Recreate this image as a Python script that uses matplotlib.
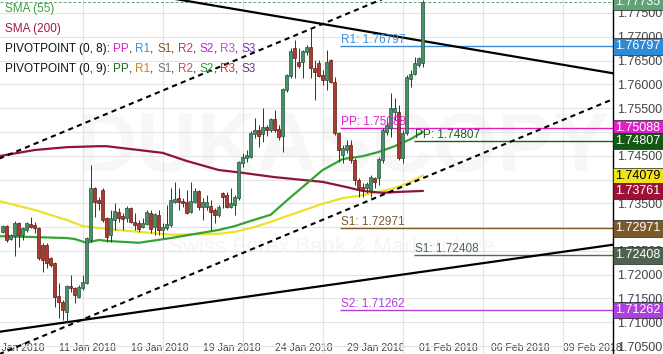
import numpy as np
import matplotlib
matplotlib.use('Agg')
import matplotlib.pyplot as plt
from matplotlib.offsetbox import TextArea, HPacker, AnnotationBbox

plt.rcParams['font.family'] = ['Liberation Sans', 'DejaVu Sans']

###################################
# data (4H candles)
###################################
opens = [1.7290, 1.7302, 1.7275, 1.7281, 1.7309, 1.7284, 1.7294, 1.7307, 1.7305, 1.7298,
         1.7263, 1.7263, 1.7235, 1.7225, 1.7155, 1.7143, 1.7122, 1.7176, 1.7172, 1.7153,
         1.7172, 1.7183, 1.7273, 1.7382, 1.7357, 1.7378, 1.7319, 1.7284, 1.7315, 1.7332,
         1.7323, 1.7319, 1.7340, 1.7311, 1.7309, 1.7300, 1.7307, 1.7330, 1.7300, 1.7326,
         1.7294, 1.7298, 1.7305, 1.7353, 1.7361, 1.7355, 1.7353, 1.7332, 1.7353, 1.7376,
         1.7342, 1.7342, 1.7344, 1.7336, 1.7326, 1.7372, 1.7367, 1.7342, 1.7347, 1.7361,
         1.7435, 1.7445, 1.7447, 1.7496, 1.7504, 1.7496, 1.7510, 1.7504, 1.7527, 1.7506,
         1.7491, 1.7588, 1.7617, 1.7676, 1.7647, 1.7647, 1.7668, 1.7678, 1.7634, 1.7645,
         1.7620, 1.7609, 1.7651, 1.7605, 1.7498, 1.7452, 1.7462, 1.7472, 1.7441, 1.7399,
         1.7384, 1.7382, 1.7378, 1.7403, 1.7403, 1.7441, 1.7500, 1.7508, 1.7542, 1.7542,
         1.7445, 1.7498, 1.7611, 1.7622, 1.7641, 1.7645]
highs = [1.7305, 1.7304, 1.7286, 1.7313, 1.7311, 1.7300, 1.7311, 1.7321, 1.7311, 1.7300,
         1.7267, 1.7267, 1.7237, 1.7227, 1.7183, 1.7147, 1.7178, 1.7200, 1.7174, 1.7178,
         1.7200, 1.7279, 1.7431, 1.7384, 1.7363, 1.7382, 1.7321, 1.7336, 1.7351, 1.7340,
         1.7330, 1.7344, 1.7342, 1.7330, 1.7315, 1.7319, 1.7336, 1.7336, 1.7330, 1.7336,
         1.7309, 1.7347, 1.7382, 1.7395, 1.7382, 1.7361, 1.7378, 1.7395, 1.7382, 1.7378,
         1.7361, 1.7367, 1.7357, 1.7340, 1.7347, 1.7374, 1.7374, 1.7382, 1.7367, 1.7439,
         1.7456, 1.7462, 1.7502, 1.7529, 1.7515, 1.7550, 1.7515, 1.7529, 1.7546, 1.7515,
         1.7592, 1.7622, 1.7676, 1.7693, 1.7676, 1.7672, 1.7683, 1.7718, 1.7651, 1.7651,
         1.7630, 1.7672, 1.7653, 1.7615, 1.7500, 1.7472, 1.7483, 1.7483, 1.7445, 1.7403,
         1.7393, 1.7395, 1.7410, 1.7405, 1.7447, 1.7508, 1.7529, 1.7582, 1.7571, 1.7557,
         1.7504, 1.7620, 1.7630, 1.7657, 1.7657, 1.7777]
lows = [1.7288, 1.7269, 1.7273, 1.7239, 1.7258, 1.7273, 1.7290, 1.7298, 1.7288, 1.7231,
        1.7206, 1.7214, 1.7216, 1.7132, 1.7109, 1.7105, 1.7099, 1.7164, 1.7141, 1.7151,
        1.7168, 1.7181, 1.7269, 1.7321, 1.7336, 1.7311, 1.7269, 1.7269, 1.7294, 1.7311,
        1.7294, 1.7311, 1.7309, 1.7294, 1.7290, 1.7298, 1.7305, 1.7288, 1.7284, 1.7284,
        1.7277, 1.7294, 1.7300, 1.7351, 1.7336, 1.7342, 1.7328, 1.7330, 1.7351, 1.7336,
        1.7315, 1.7336, 1.7294, 1.7309, 1.7321, 1.7340, 1.7340, 1.7340, 1.7326, 1.7357,
        1.7426, 1.7437, 1.7445, 1.7487, 1.7468, 1.7479, 1.7491, 1.7500, 1.7500, 1.7483,
        1.7458, 1.7584, 1.7613, 1.7613, 1.7634, 1.7613, 1.7662, 1.7613, 1.7567, 1.7615,
        1.7598, 1.7588, 1.7603, 1.7494, 1.7437, 1.7435, 1.7456, 1.7435, 1.7389, 1.7363,
        1.7363, 1.7372, 1.7363, 1.7382, 1.7389, 1.7435, 1.7494, 1.7489, 1.7525, 1.7441,
        1.7435, 1.7494, 1.7594, 1.7620, 1.7636, 1.7636]
closes = [1.7302, 1.7273, 1.7284, 1.7309, 1.7284, 1.7298, 1.7309, 1.7300, 1.7298, 1.7235,
          1.7231, 1.7225, 1.7221, 1.7153, 1.7143, 1.7126, 1.7176, 1.7172, 1.7158, 1.7174,
          1.7185, 1.7277, 1.7382, 1.7353, 1.7351, 1.7315, 1.7279, 1.7319, 1.7334, 1.7319,
          1.7317, 1.7340, 1.7311, 1.7305, 1.7296, 1.7309, 1.7332, 1.7296, 1.7328, 1.7294,
          1.7300, 1.7307, 1.7357, 1.7359, 1.7353, 1.7351, 1.7330, 1.7355, 1.7376, 1.7342,
          1.7353, 1.7353, 1.7332, 1.7326, 1.7342, 1.7363, 1.7342, 1.7351, 1.7363, 1.7437,
          1.7447, 1.7452, 1.7498, 1.7504, 1.7491, 1.7510, 1.7504, 1.7527, 1.7504, 1.7489,
          1.7590, 1.7620, 1.7670, 1.7655, 1.7638, 1.7670, 1.7678, 1.7634, 1.7626, 1.7617,
          1.7609, 1.7647, 1.7605, 1.7498, 1.7462, 1.7466, 1.7472, 1.7441, 1.7399, 1.7382,
          1.7378, 1.7391, 1.7405, 1.7395, 1.7443, 1.7504, 1.7515, 1.7550, 1.7550, 1.7445,
          1.7498, 1.7615, 1.7622, 1.7645, 1.7655, 1.77735]

# moving averages, read at some candle indexes
sma55_idx = [-1, 8, 16, 18, 21, 24, 26, 34, 42, 54, 58, 62, 67, 72, 80, 85, 90, 94, 98, 102, 105]
sma55_val = [1.7281, 1.7279, 1.7277, 1.7275, 1.7267, 1.7273, 1.7271, 1.7267, 1.7277, 1.7294,
             1.7302, 1.7313, 1.7326, 1.7363, 1.7420, 1.7443, 1.7449, 1.7458, 1.7470, 1.7485, 1.7500]
sma200_idx = [-1, 8, 16, 24, 26, 34, 40, 46, 54, 60, 68, 80, 86, 90, 95, 99, 105]
sma200_val = [1.7449, 1.7462, 1.7468, 1.7470, 1.7470, 1.7462, 1.7456, 1.7439, 1.7420, 1.7414,
              1.7405, 1.7395, 1.7384, 1.7376, 1.7372, 1.7374, 1.7376]
yellow_idx = [-1, 8, 16, 20, 26, 34, 42, 54, 58, 62, 67, 72, 80, 85, 90, 94, 98, 102, 105]
yellow_val = [1.7355, 1.7336, 1.7315, 1.7302, 1.7296, 1.7290, 1.7284, 1.7286, 1.7290, 1.7298,
              1.7311, 1.7326, 1.7349, 1.7361, 1.7367, 1.7374, 1.7382, 1.7395, 1.7408]

# trend lines (end points)
trend_x = [-1, 153]
channel_top = [1.74435, 1.79825]
channel_bottom = [1.70325, 1.75704]
line_down = [1.78424, 1.76227]
line_up = [1.70798, 1.72635]

last_price = 1.77735
sma200_last = 1.73761
yellow_last = 1.74079

# daily pivots
piv8_start = 84.3
piv9_start = 102.8
piv8 = [('R1', 1.76797, '#3c8fd6'), ('PP', 1.75088, '#e01fc8'),
        ('S1', 1.72971, '#7a5a2a'), ('S2', 1.71262, '#b03fd6')]
piv9 = [('PP', 1.74807, '#1d5e1d'), ('S1', 1.72408, '#56665a')]

date_labels = ['08 Jan 2018', '11 Jan 2018', '16 Jan 2018', '19 Jan 2018', '24 Jan 2018',
               '29 Jan 2018', '01 Feb 2018', '06 Feb 2018', '09 Feb 2018']
date_idx = 3.3 + 18 * np.arange(len(date_labels))

###################################
# figure
###################################
fig = plt.figure(figsize=(6.63, 3.54), dpi=100)
ax = fig.add_axes([0, 0, 613 / 663., 1])
ax.set_xlim(-0.675, 152.575)
ax.set_ylim(1.70333, 1.77773)

for s in ['left', 'top', 'bottom']:
    ax.spines[s].set_visible(False)
ax.spines['right'].set_color('black')
ax.spines['right'].set_linewidth(1.0)

yt = np.arange(1.705, 1.7751, 0.005)
ax.set_yticks(yt)
ax.set_yticklabels(['%.5f' % v for v in yt])
ax.yaxis.tick_right()
ax.tick_params(axis='y', length=0, pad=3, labelsize=9, labelcolor='#444444')
ax.set_xticks(date_idx)
ax.set_xticklabels(date_labels)
ax.tick_params(axis='x', length=0, direction='in', pad=-8, labelsize=7.5, labelcolor='#444444')
ax.set_xticks(np.arange(20, 150, 20), minor=True)
ax.tick_params(axis='x', which='minor', length=0)
ax.grid(True, which='minor', axis='x', color='#e4e4e4', lw=0.8)
ax.grid(True, which='major', axis='y', color='#e4e4e4', lw=0.8)
ax.grid(False, which='major', axis='x')
ax.set_axisbelow(True)

# watermark (very faint)
ax.text(0.56, 0.58, 'DUKASCOPY', transform=ax.transAxes, ha='center', va='center',
        fontsize=60, fontweight='bold', color='#f7f7f7', zorder=0)
ax.text(0.54, 0.30, 'Swiss Forex Bank & Marketplace', transform=ax.transAxes, ha='center',
        va='center', fontsize=16, color='#f5f5f5', zorder=0)

# trend lines
ax.plot(trend_x, channel_top, color='black', lw=1.5, ls=(0, (2.5, 2)), zorder=4)
ax.plot(trend_x, channel_bottom, color='black', lw=1.5, ls=(0, (2.5, 2)), zorder=4)
ax.plot(trend_x, line_down, color='black', lw=1.6, zorder=4)
ax.plot(trend_x, line_up, color='black', lw=1.6, zorder=4)

# moving averages
ax.plot(yellow_idx, yellow_val, color='#ece22c', lw=1.6, zorder=3)
ax.plot(sma200_idx, sma200_val, color='#8e1538', lw=1.6, zorder=3)
ax.plot(sma55_idx, sma55_val, color='#34a334', lw=1.6, zorder=3)

# candles
o = np.array(opens)
c = np.array(closes)
h = np.array(highs)
l = np.array(lows)
x = np.arange(len(o))
up = c >= o
ax.vlines(x, l, h, color='#333333', lw=0.7, zorder=5)
ax.bar(x[up], (c - o)[up], bottom=o[up], width=0.72, color='#46906a', edgecolor='#24553a',
       lw=0.5, zorder=6)
ax.bar(x[~up], (o - c)[~up], bottom=c[~up], width=0.72, color='#ae3a2e', edgecolor='#5e1a14',
       lw=0.5, zorder=6)

# current price line
ax.axhline(last_price, color='#5fa477', lw=0.7, ls=(0, (3, 2)), zorder=2)

# pivot levels
xr = ax.get_xlim()[1]
for name, val, col in piv8:
    ax.hlines(val, piv8_start, xr, color=col, lw=1.0, zorder=2)
    ax.text(piv8_start + 0.3, val, '%s: %.5f' % (name, val), color=col, fontsize=8.5,
            va='bottom', ha='left', zorder=7)
for name, val, col in piv9:
    ax.hlines(val, piv9_start, xr, color=col, lw=1.0, zorder=2)
    ax.text(piv9_start + 0.3, val, '%s: %.5f' % (name, val), color=col, fontsize=8.5,
            va='bottom', ha='left', zorder=7)

# price boxes on the right axis
boxes = [(last_price, '#5fa477', 'white'), (1.76797, '#2f8ad8', 'white'),
         (1.75088, '#e01fc8', 'white'), (1.74807, '#155815', 'white'),
         (yellow_last, '#f2e41c', 'black'), (sma200_last, '#9c1236', 'white'),
         (1.72971, '#7a5a2a', 'white'), (1.72408, '#4f6252', 'white'),
         (1.71262, '#b03fe0', 'white')]
for val, fc, tc in boxes:
    ax.text(1.004, val, '%.5f' % val, transform=ax.get_yaxis_transform(), ha='left',
            va='center', fontsize=9, color=tc, clip_on=False, zorder=10,
            bbox=dict(boxstyle='square,pad=0.18', fc=fc, ec='#222222', lw=0.5))

# legend
rows = [[('SMA (55)', '#3aa03a')],
        [('SMA (200)', '#a01a48')],
        [('PIVOTPOINT (0, 8): ', '#111111'), ('PP', '#e01fc8'), (', ', '#111111'),
         ('R1', '#3c8fd6'), (', ', '#111111'), ('S1', '#7a5a2a'), (', ', '#111111'),
         ('R2', '#c43a5a'), (', ', '#111111'), ('S2', '#b030d0'), (', ', '#111111'),
         ('R3', '#c050e0'), (', ', '#111111'), ('S3', '#7a30c0')],
        [('PIVOTPOINT (0, 9): ', '#111111'), ('PP', '#1d6a1d'), (', ', '#111111'),
         ('R1', '#c08a20'), (', ', '#111111'), ('S1', '#707a70'), (', ', '#111111'),
         ('R2', '#d04a5a'), (', ', '#111111'), ('S2', '#20a040'), (', ', '#111111'),
         ('R3', '#e02828'), (', ', '#111111'), ('S3', '#603a8a')]]
row_y = [9, 29, 49, 69]
for parts, yy in zip(rows, row_y):
    areas = [TextArea(t, textprops=dict(color=col, fontsize=8.5)) for t, col in parts]
    hp = HPacker(children=areas, pad=0, sep=0, align='baseline')
    ab = AnnotationBbox(hp, (5 / 613., 1 - yy / 354.), xycoords='axes fraction',
                        box_alignment=(0, 0.5), frameon=False, pad=0, zorder=8)
    ax.add_artist(ab)

fig.savefig('out.png', dpi=100)
